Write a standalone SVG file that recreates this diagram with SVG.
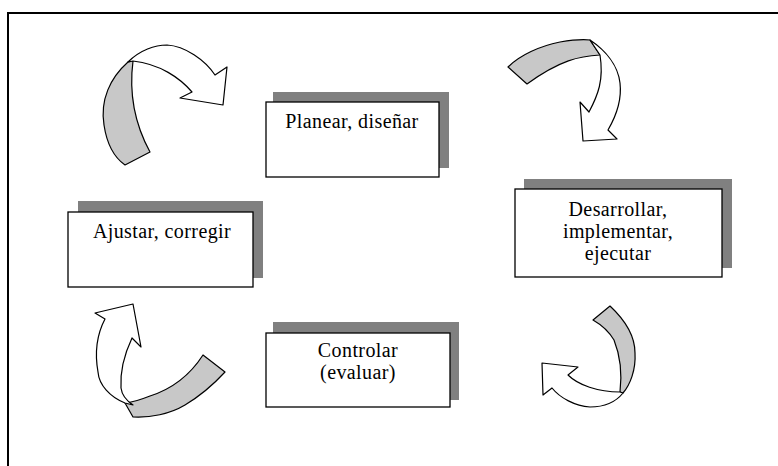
<svg xmlns="http://www.w3.org/2000/svg" width="778" height="466" viewBox="0 0 778 466">
<style>
.shadow{fill:#808080}
.box{fill:#fff;stroke:#000;stroke-width:1.3}
.lbl{font-family:"Liberation Serif","Times New Roman",serif;font-size:20px;letter-spacing:0.4px;fill:#000;text-anchor:middle}
.band{fill:#c8c8c8;stroke:#000;stroke-width:1.2;stroke-linejoin:round}
.white{fill:#fff;stroke:#000;stroke-width:1.2;stroke-linejoin:round}
</style>
<rect width="778" height="466" fill="#fff"/>
<path d="M8,466 V13 H778" fill="none" stroke="#000" stroke-width="2"/>
<g id="connectors">
  <g id="arrow-top-left">
    <path class="band" d="M128,62 C110,78 100,100 104,125 C107,145 115,158 125,165 L150,152 C138,130 128,100 133,61 Z"/>
    <path class="white" d="M128,62 C140,50 155,45 167,45 C185,46 205,60 215,75 L227,67 L223,105 L180,98 L192,92 C180,78 160,64 133,61 Z"/>
  </g>
  <g id="arrow-top-right">
    <path class="band" d="M508,67 C520,55 540,46 560,42 C572,40 582,39 590,40 L600,55 C580,56 560,60 527,84 Z"/>
    <path class="white" d="M590,40 C605,50 618,65 620,83 C622,100 615,118 608,130 L617,139 L583,141 L580,102 L589,112 C598,95 604,80 600,55 Z"/>
  </g>
  <g id="arrow-bottom-right">
    <path class="band" d="M610,306 C625,320 635,337 635,353 C636,370 630,385 623,393 L620,392 C622,375 620,355 614,340 C608,330 600,324 593,320 Z"/>
    <path class="white" d="M623,393 C615,403 605,407 590,407 C575,406 560,398 552,388 L543,395 L542,363 L578,367 L568,375 C578,385 598,392 620,392 Z"/>
  </g>
  <g id="arrow-bottom-left">
    <path class="band" d="M203,355 C192,372 175,388 150,396 C140,400 132,402 125,403 L133,417 C150,418 170,414 185,405 C200,396 213,385 225,372 Z"/>
    <path class="white" d="M125,403 C110,397 99,385 98,372 C95,355 95,338 105,319 L95,313 L133,304 L141,347 L132,338 C124,355 120,372 121,388 C122,396 127,401 133,405 Z"/>
  </g>
</g>
<g id="node-planear">
  <rect class="shadow" x="273" y="92" width="176" height="76"/>
  <rect class="box" x="266" y="102" width="173" height="75"/>
  <text class="lbl" x="352" y="128">Planear, diseñar</text>
</g>
<g id="node-desarrollar">
  <rect class="shadow" x="524" y="179" width="208" height="89"/>
  <rect class="box" x="515" y="189" width="207" height="88"/>
  <text class="lbl" x="618" y="216">Desarrollar,</text>
  <text class="lbl" x="618" y="238">implementar,</text>
  <text class="lbl" x="618" y="260">ejecutar</text>
</g>
<g id="node-controlar">
  <rect class="shadow" x="273" y="322" width="186" height="78"/>
  <rect class="box" x="266" y="333" width="184" height="74"/>
  <text class="lbl" x="358" y="357">Controlar</text>
  <text class="lbl" x="358" y="379">(evaluar)</text>
</g>
<g id="node-ajustar">
  <rect class="shadow" x="78" y="201" width="185" height="77"/>
  <rect class="box" x="68" y="212" width="185" height="75"/>
  <text class="lbl" x="162" y="238">Ajustar, corregir</text>
</g>
</svg>
